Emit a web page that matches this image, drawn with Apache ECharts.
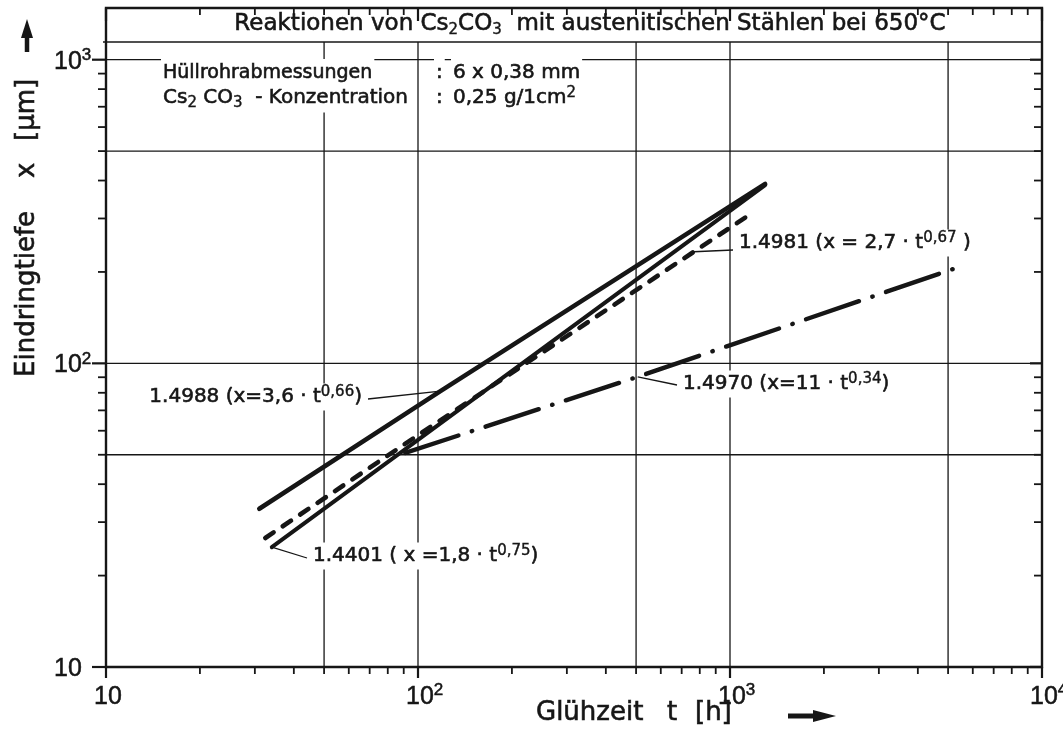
<!DOCTYPE html>
<html>
<head>
<meta charset="utf-8">
<script src="https://cdn.jsdelivr.net/npm/echarts@6/dist/echarts.min.js"></script>
<style>
  html, body { margin: 0; padding: 0; background: #fff; }
  #chart { width: 1063px; height: 745px; }
</style>
</head>
<body>
<div id="chart"></div>
<script>
// Axis ranges: annealing time t [h] and penetration depth x [µm], both logarithmic
const X_MIN = 10, X_MAX = 10000;
const Y_MIN = 10, Y_MAX = 1480;

const xMajorTicks = [10, 100, 1000, 10000];
const xMinorTicks = [20, 30, 40, 50, 60, 70, 80, 90, 200, 300, 400, 500, 600, 700, 800, 900,
                     2000, 3000, 4000, 5000, 6000, 7000, 8000, 9000];
const yMajorTicks = [10, 100, 1000];
const yMinorTicks = [20, 30, 40, 50, 60, 70, 80, 90, 200, 300, 400, 500, 600, 700, 800, 900];
const xTickLabels = ['10', '10{e|2}', '10{e|3}', '10{e|4}'];
const yTickLabels = ['10', '10{e|2}', '10{e|3}'];
const xGridLines = [50, 100, 500, 1000, 5000];
const yGridLines = [50, 100, 500, 1000];

// Penetration depth over annealing time for each steel grade
const steelNames = ['1.4988', '1.4401', '1.4981', '1.4970'];
const time14988 = [31, 118, 1296];
const depth14988 = [33.2, 81, 390];
const time14401 = [34, 100, 1296];
const depth14401 = [24.8, 56, 386];
const time14981 = [32.4, 100, 1168];
const depth14981 = [26.6, 58, 311];
const time14970 = [91, 506, 5445];
const depth14970 = [50.7, 90.3, 208];

const INK = '#161616';
const FONT = 'DejaVu Sans';
const DIGITS = "'Liberation Sans Narrow', 'Liberation Sans', sans-serif";

const times = [time14988, time14401, time14981, time14970];
const depths = [depth14988, depth14401, depth14981, depth14970];
const pairs = (ts, ds) => ts.map((t, i) => [t, ds[i]]);

const lineStyles = [
  { width: 4.6, type: 'solid' },
  { width: 4.0, type: 'solid' },
  { width: 4.6, type: [10, 11] },
  { width: 4.4, type: [56, 14, 0.5, 14] }
];

const chart = echarts.init(document.getElementById('chart'), null, { renderer: 'canvas' });

function tickLine(x1, y1, x2, y2, w) {
  return { type: 'line', shape: { x1, y1, x2, y2 }, style: { stroke: INK, lineWidth: w } };
}

// bottom ticks point outward, top ticks hang inward from the frame
function renderXTick(params, api) {
  const cs = params.coordSys;
  const x = api.coord([api.value(0), Y_MIN])[0];
  const major = api.value(2) === 1;
  const bottom = cs.y + cs.height, top = cs.y;
  return {
    type: 'group',
    children: [
      tickLine(x, bottom, x, bottom + (major ? 11 : 7), major ? 2.2 : 1.8),
      tickLine(x, top, x, top + (major ? 13 : 7), major ? 2.2 : 1.8)
    ]
  };
}

// left ticks point outward, right ticks point inward
function renderYTick(params, api) {
  const cs = params.coordSys;
  const y = api.coord([X_MIN, api.value(1)])[1];
  const major = api.value(2) === 1;
  const left = cs.x, right = cs.x + cs.width;
  return {
    type: 'group',
    children: [
      tickLine(left, y, left - (major ? 14 : 8), y, major ? 2.2 : 1.8),
      tickLine(right, y, right - (major ? 12 : 8), y, major ? 2.2 : 1.8)
    ]
  };
}

// vertical grid lines stop under the title band
function renderXGrid(params, api) {
  const cs = params.coordSys;
  const x = api.coord([api.value(0), Y_MIN])[0];
  return tickLine(x, cs.y + cs.height, x, cs.y + 34, 1.3);
}

function renderYGrid(params, api) {
  const cs = params.coordSys;
  const y = api.coord([X_MIN, api.value(1)])[1];
  return tickLine(cs.x, y, cs.x + cs.width, y, 1.3);
}

const tickRich = { e: { fontSize: 17, fontFamily: DIGITS, verticalAlign: 'top', lineHeight: 13, fill: INK,
                        stroke: INK, lineWidth: 0.5 } };

function tickText(x, y, str) {
  return {
    type: 'text', x, y,
    style: { text: str, fontSize: 25, fontFamily: DIGITS, fill: INK, stroke: INK, lineWidth: 0.5,
             align: 'left', verticalAlign: 'middle', lineHeight: 30, rich: tickRich }
  };
}

function renderXLabel(params, api) {
  const p = api.coord([api.value(0), Y_MIN]);
  return tickText(p[0] - 12, p[1] + 30, xTickLabels[params.dataIndex]);
}

function renderYLabel(params, api) {
  const p = api.coord([X_MIN, api.value(1)]);
  return tickText(p[0] - 52, p[1] + 2, yTickLabels[params.dataIndex]);
}

const customBase = { type: 'custom', coordinateSystem: 'cartesian2d', clip: false, silent: true, z: 1 };

const option = {
  backgroundColor: '#fff',
  animation: false,
  grid: { left: 106, top: 8, width: 936, height: 659, show: true, borderColor: INK, borderWidth: 2.4,
          backgroundColor: 'transparent' },
  xAxis: {
    type: 'log', logBase: 10, min: X_MIN, max: X_MAX,
    axisLine: { show: false }, axisTick: { show: false }, axisLabel: { show: false }, splitLine: { show: false }
  },
  yAxis: {
    type: 'log', logBase: 10, min: Y_MIN, max: Y_MAX,
    axisLine: { show: false }, axisTick: { show: false }, axisLabel: { show: false }, splitLine: { show: false }
  },
  series: [
    Object.assign({}, customBase, { name: 'xGrid', renderItem: renderXGrid, encode: { x: 0, y: 1 },
      data: xGridLines.map(v => [v, Y_MIN]) }),
    Object.assign({}, customBase, { name: 'yGrid', renderItem: renderYGrid, encode: { x: 0, y: 1 },
      data: yGridLines.map(v => [X_MIN, v]) }),
    Object.assign({}, customBase, { name: 'xTicks', renderItem: renderXTick, encode: { x: 0, y: 1 },
      data: xMajorTicks.map(v => [v, Y_MIN, 1]).concat(xMinorTicks.map(v => [v, Y_MIN, 0])) }),
    Object.assign({}, customBase, { name: 'yTicks', renderItem: renderYTick, encode: { x: 0, y: 1 },
      data: yMajorTicks.map(v => [X_MIN, v, 1]).concat(yMinorTicks.map(v => [X_MIN, v, 0])) }),
    Object.assign({}, customBase, { name: 'xLabels', renderItem: renderXLabel, encode: { x: 0, y: 1 },
      data: xMajorTicks.map(v => [v, Y_MIN]) }),
    Object.assign({}, customBase, { name: 'yLabels', renderItem: renderYLabel, encode: { x: 0, y: 1 },
      data: yMajorTicks.map(v => [X_MIN, v]) })
  ].concat(steelNames.map((name, i) => ({
    name, type: 'line', showSymbol: false, silent: true, z: 3,
    data: pairs(times[i], depths[i]),
    lineStyle: { color: INK, width: lineStyles[i].width, type: lineStyles[i].type, cap: 'round', join: 'round' }
  })))
};

chart.setOption(option);

// depth along a drawn series at time t (straight segments in log-log space)
function depthAt(ts, ds, t) {
  let i = 0;
  while (i < ts.length - 2 && t > ts[i + 1]) i++;
  const f = (Math.log(t) - Math.log(ts[i])) / (Math.log(ts[i + 1]) - Math.log(ts[i]));
  return Math.exp(Math.log(ds[i]) + f * (Math.log(ds[i + 1]) - Math.log(ds[i])));
}

const labelRich = {
  e: { fontSize: 15, fontFamily: FONT, verticalAlign: 'top', lineHeight: 11, fill: INK, stroke: INK, lineWidth: 0.4 },
  s: { fontSize: 15, fontFamily: FONT, verticalAlign: 'bottom', lineHeight: 9, fill: INK, stroke: INK, lineWidth: 0.4 }
};

function text(x, y, str, size, extra) {
  return Object.assign({
    type: 'text', x, y, silent: true, z: 10,
    style: Object.assign({ text: str, fontSize: size, fontFamily: FONT, fill: INK, stroke: INK, lineWidth: 0.6,
                           align: 'left', verticalAlign: 'middle', lineHeight: size + 5, rich: labelRich },
                         (extra && extra.style) || {})
  }, extra ? { rotation: extra.rotation || 0 } : {});
}

// steel grade labels with their fitted laws and leader lines
const notes = [
  { s: 0, at: 118, str: '1.4988 (x=3,6 · t{e|0,66})', tx: 364, ty: 397, align: 'right', lx: 368, ly: 399 },
  { s: 1, at: 34, str: '1.4401 ( x =1,8 · t{e|0,75})', tx: 311, ty: 556, align: 'left', lx: 307, ly: 558 },
  { s: 2, at: 766, str: '1.4981 (x = 2,7 · t{e|0,67} )', tx: 737, ty: 243, align: 'left', lx: 733, ly: 250 },
  { s: 3, at: 506, str: '1.4970 (x=11 · t{e|0,34})', tx: 681, ty: 384, align: 'left', lx: 677, ly: 385 }
];

const graphics = [];
notes.forEach(n => {
  const p = chart.convertToPixel({ gridIndex: 0 }, [n.at, depthAt(times[n.s], depths[n.s], n.at)]);
  graphics.push({ type: 'line', silent: true, z: 9, shape: { x1: p[0], y1: p[1], x2: n.lx, y2: n.ly },
                  style: { stroke: INK, lineWidth: 1.3 } });
  graphics.push(text(n.tx, n.ty, n.str, 20, { style: { align: n.align, backgroundColor: '#fff', padding: [1, 2] } }));
});

// title band
graphics.push({ type: 'line', silent: true, z: 5, shape: { x1: 103, y1: 42, x2: 1042, y2: 42 },
                style: { stroke: INK, lineWidth: 1.6 } });
graphics.push(text(590, 24, 'Reaktionen von Cs{s|2}CO{s|3}  mit austenitischen Stählen bei 650°C', 23,
                   { style: { align: 'center' } }));

// test conditions
const bg = { backgroundColor: '#fff', padding: [2, 2] };
graphics.push(text(161, 73, 'Hüllrohrabmessungen', 19, { style: bg }));
graphics.push(text(434, 73, ':', 20, { style: bg }));
graphics.push(text(451, 73, '6 x 0,38 mm', 20, { style: bg }));
graphics.push(text(161, 98, 'Cs{s|2} CO{s|3}  - Konzentration', 20, { style: bg }));
graphics.push(text(434, 98, ':', 20, { style: bg }));
graphics.push(text(451, 98, '0,25 g/1cm{e|2}', 20, { style: bg }));

// axis names
const rot = Math.PI / 2;
graphics.push(text(27, 377, 'Eindringtiefe', 26, { rotation: rot }));
graphics.push(text(27, 178, 'x', 26, { rotation: rot }));
graphics.push(text(27, 141, '[µm]', 26, { rotation: rot }));
graphics.push({ type: 'polyline', silent: true, shape: { points: [[27, 52], [27, 36]] },
                style: { stroke: INK, lineWidth: 4.5 } });
graphics.push({ type: 'polygon', silent: true, shape: { points: [[21, 38], [27, 19], [33, 38]] },
                style: { fill: INK } });

graphics.push(text(536, 713, 'Glühzeit', 26));
graphics.push(text(667, 713, 't', 26));
graphics.push(text(695, 713, '[h]', 26));
graphics.push({ type: 'polyline', silent: true, shape: { points: [[788, 716], [816, 716]] },
                style: { stroke: INK, lineWidth: 5 } });
graphics.push({ type: 'polygon', silent: true, shape: { points: [[813, 710], [836, 716], [813, 722]] },
                style: { fill: INK } });

chart.setOption({ graphic: graphics });
</script>
</body>
</html>
